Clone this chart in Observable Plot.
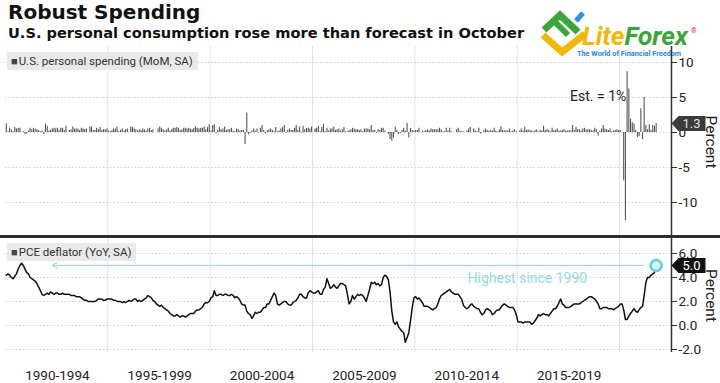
<!DOCTYPE html>
<html><head><meta charset="utf-8">
<script src="https://cdn.jsdelivr.net/npm/d3@7"></script>
<script src="https://cdn.jsdelivr.net/npm/@observablehq/plot@0.6"></script>
<style>
body{margin:0;background:#fff;}
#chart{position:relative;width:720px;height:383px;overflow:hidden;font-family:Roboto,sans-serif;color:#222;background:#fff;}
.abs{position:absolute;}
#title{left:8px;top:0px;font:bold 20px "DejaVu Sans";color:#111;}
#subtitle{left:8px;top:24px;font:bold 14.6px "DejaVu Sans";color:#111;}
.legend{background:#e9e9e9;font-size:11.5px;height:18px;line-height:18px;padding:0 5px 0 4px;color:#333;white-space:nowrap;}
.legend b{font-weight:normal;color:#444;font-size:11px;margin-right:1px;}
#sep{left:0;top:235px;width:720px;height:3px;background:#2e2e2e;}
#logoText{left:582px;top:24px;font:italic bold 26px Roboto;line-height:25px;}
#tagline{left:577px;top:50px;font:bold 7.3px Roboto;line-height:8px;color:#2a86d6;white-space:nowrap;}
#reg{left:691px;top:27px;font:7px Roboto;line-height:8px;color:#d23;}
</style></head>
<body>
<div id="chart">
  <div id="title" class="abs">Robust Spending</div>
  <div id="subtitle" class="abs">U.S. personal consumption rose more than forecast in October</div>
  <svg class="abs" style="left:538px;top:8px" width="52" height="48" viewBox="0 0 52 48">
    <polyline points="6,22 22,7 40,24" fill="none" stroke="#3aa63a" stroke-width="7"/>
    <polyline points="17,14 30,27" fill="none" stroke="#3aa63a" stroke-width="6"/>
    <polyline points="5,27 24,44 47,26" fill="none" stroke="#f2b705" stroke-width="7"/>
    <line x1="38" y1="13" x2="45" y2="5" stroke="#2f8fe0" stroke-width="5"/>
  </svg>
  <div id="logoText" class="abs"><span style="color:#f2b705">Lite</span><span style="color:#3aa63a">Forex</span></div>
  <div id="reg" class="abs">®</div>
  <div id="tagline" class="abs">The World of Financial Freedom</div>
  <div id="topPanel" class="abs" style="left:0;top:46px"></div>
  <div id="sep" class="abs"></div>
  <div id="bottomPanel" class="abs" style="left:0;top:238px"></div>
  <div class="abs legend" style="left:7px;top:52px"><b>■</b>U.S. personal spending (MoM, SA)</div>
  <div class="abs legend" style="left:7px;top:243px"><b>■</b>PCE deflator (YoY, SA)</div>
</div>
<script>
// ---- data (monthly, starting Jan 1990) ----
const startYear = 1990;
const spending = [
 1.2,0.1,0.6,0.4,0.1,0.7,0.5,0.6,0.6,0.0,0.1,-0.3,
 -0.2,0.2,0.6,0.4,0.6,0.5,0.4,0.3,0.1,0.2,-0.3,1.2,
 0.9,0.2,0.3,0.5,0.6,0.5,0.6,0.3,0.6,0.6,0.3,0.9,
 0.0,0.3,0.4,0.8,0.5,0.5,0.5,0.3,0.6,0.5,0.4,0.5,
 0.0,0.8,0.8,0.3,0.3,0.6,0.4,0.7,0.3,0.4,0.4,0.5,
 0.2,0.1,0.3,0.5,0.5,0.8,0.1,0.3,0.5,0.2,0.4,0.5,
 0.0,0.8,0.7,0.5,0.4,0.2,0.4,0.3,0.5,0.4,0.2,0.5,
 0.6,0.3,0.4,0.0,0.0,0.5,0.8,0.6,0.4,0.2,0.4,0.6,
 0.2,0.4,0.6,0.6,0.7,0.6,0.3,0.4,0.6,0.6,0.5,0.6,
 0.5,0.4,0.6,0.8,0.6,0.5,0.6,0.6,0.8,0.4,0.7,1.1,
 0.2,1.0,1.1,-0.1,0.3,0.7,0.4,0.5,0.8,0.3,0.4,0.4,
 0.6,0.2,0.1,0.5,0.4,0.2,0.3,0.3,-1.7,2.8,-0.3,-0.1,
 0.2,0.5,0.2,0.5,-0.1,0.6,1.0,0.3,-0.2,0.3,0.4,0.5,
 0.3,0.1,0.7,0.1,0.2,0.5,0.7,1.0,-0.1,0.3,0.5,0.3,
 0.3,0.6,1.0,0.3,0.8,-0.1,0.9,0.4,0.6,0.6,0.5,0.8,
 0.0,0.5,0.6,0.9,0.1,0.7,1.2,0.1,0.6,0.2,0.5,0.5,
 0.8,0.3,0.4,0.5,0.2,0.4,0.7,0.1,0.1,0.3,0.4,0.6,
 0.5,0.4,0.4,0.3,0.4,0.1,0.5,0.5,0.5,0.4,1.0,0.3,
 0.3,-0.1,0.4,0.3,0.6,0.6,0.2,0.0,-0.3,-1.0,-1.2,-0.8,
 0.8,0.3,-0.3,-0.1,0.3,0.6,0.2,1.3,-0.8,0.6,0.3,0.2,
 0.3,0.3,0.6,0.0,0.2,0.1,0.3,0.4,0.2,0.5,0.4,0.4,
 0.4,0.4,0.6,0.4,0.1,0.1,0.6,0.2,0.6,0.1,0.0,0.0,
 0.4,0.6,0.2,0.1,0.1,0.0,0.2,0.5,0.7,0.0,0.5,0.2,
 0.1,0.6,-0.2,0.0,0.3,0.5,0.3,0.2,0.3,0.2,0.6,0.2,
 0.1,0.4,0.8,0.3,0.2,0.3,0.2,0.5,0.1,0.2,0.4,0.1,
 0.0,0.2,0.5,0.2,0.7,0.3,0.4,0.3,0.2,0.1,0.3,0.4,
 0.1,0.3,0.2,0.9,0.3,0.4,0.3,0.1,0.6,0.3,0.3,0.5,
 0.2,0.2,0.3,0.4,0.2,0.2,0.3,0.2,1.0,0.3,0.7,0.4,
 0.4,0.2,0.5,0.6,0.4,0.4,0.4,0.3,0.2,0.6,0.4,-0.5,
 0.2,0.5,1.0,0.5,0.4,0.3,0.5,0.1,0.2,0.3,0.4,0.3,
 0.3,0.0,-6.9,-12.6,8.7,6.2,1.9,1.4,1.2,0.3,-0.7,-0.6,
 3.4,-1.0,5.0,1.0,0.4,1.1,0.3,1.0,0.9,1.3
];
const pceDeflator = [
 4.2,4.3,4.2,4.0,3.9,4.1,4.3,4.7,5.0,5.2,5.0,4.7,
 4.4,4.3,4.0,3.9,3.8,3.7,3.5,3.2,2.9,2.6,2.5,2.6,
 2.7,2.6,2.8,2.7,2.6,2.7,2.7,2.6,2.6,2.7,2.6,2.6,
 2.6,2.6,2.5,2.5,2.5,2.4,2.4,2.4,2.3,2.2,2.1,2.1,
 2.0,2.0,2.0,2.0,2.0,2.1,2.2,2.2,2.2,2.1,2.1,2.2,
 2.2,2.2,2.2,2.1,2.1,2.0,2.0,2.0,1.9,2.0,1.9,2.0,
 2.1,2.0,2.1,2.2,2.2,2.0,2.1,2.0,2.1,2.2,2.3,2.5,
 2.4,2.3,2.1,2.0,1.8,1.7,1.6,1.7,1.5,1.4,1.3,1.2,
 1.0,0.9,0.8,0.8,0.9,0.8,0.7,0.8,0.8,0.7,0.8,0.9,
 1.0,1.0,1.0,1.2,1.3,1.3,1.4,1.5,1.8,1.9,1.9,2.0,
 2.3,2.4,2.9,2.5,2.5,2.6,2.6,2.5,2.6,2.6,2.5,2.5,
 2.6,2.5,2.3,2.4,2.3,2.1,1.8,1.7,1.7,1.2,1.0,0.9,
 0.6,0.8,1.1,1.0,1.1,1.1,1.3,1.5,1.5,1.8,1.8,2.1,
 2.4,2.7,2.5,1.8,1.7,1.8,1.9,2.0,2.0,1.8,1.7,1.7,
 1.9,2.0,2.1,2.3,2.6,2.6,2.4,2.3,2.3,2.7,2.9,2.8,
 2.7,2.7,2.8,2.9,2.6,2.6,3.0,3.2,3.9,3.5,3.1,3.2,
 3.4,3.2,3.1,3.3,3.5,3.5,3.4,3.3,2.6,1.8,2.0,2.5,
 2.2,2.4,2.6,2.5,2.6,2.5,2.3,2.0,2.5,3.0,3.6,3.5,
 3.6,3.4,3.5,3.3,3.4,4.0,4.2,4.1,3.8,2.8,1.2,0.3,
 0.1,0.3,-0.1,-0.3,-0.5,-0.6,-1.4,-1.0,-0.6,0.4,1.5,2.3,
 2.4,2.2,2.3,2.1,1.9,1.6,1.6,1.6,1.5,1.4,1.3,1.4,
 1.5,1.8,2.2,2.5,2.6,2.7,2.8,2.9,3.0,2.8,2.7,2.6,
 2.6,2.6,2.4,2.2,1.7,1.5,1.4,1.5,1.7,1.8,1.6,1.5,
 1.4,1.4,1.1,0.9,1.0,1.3,1.4,1.3,1.2,0.9,1.0,1.2,
 1.3,1.3,1.5,1.7,1.8,1.7,1.6,1.5,1.5,1.5,1.3,0.9,
 0.3,0.3,0.3,0.2,0.3,0.3,0.3,0.3,0.1,0.2,0.4,0.6,
 0.9,0.8,0.9,1.0,0.9,0.9,0.8,1.0,1.2,1.4,1.4,1.6,
 1.9,2.2,1.8,1.7,1.5,1.5,1.5,1.6,1.7,1.8,1.8,1.8,
 1.8,1.9,2.0,2.1,2.2,2.3,2.4,2.4,2.3,2.2,2.0,1.8,
 1.4,1.4,1.5,1.5,1.5,1.4,1.4,1.4,1.3,1.4,1.5,1.6,
 1.8,1.8,1.3,0.5,0.5,0.8,1.0,1.2,1.4,1.2,1.1,1.3,
 1.5,1.6,2.5,3.6,4.0,4.0,4.2,4.3,4.4,5.0
];
const xLabels = ["1990-1994","1995-1999","2000-2004","2005-2009","2010-2014","2015-2019"];
const gridYears = [1995,2000,2005,2010,2015,2020];
const topTicks = [-10,-5,0,5,10];
const bottomTicks = [-2,0,2,4,6];
const estNote = {date: "2020-05-01", v: 5.1, label: "Est. = 1%"};
const highNote = {date: "2015-07-01", v: 3.9, label: "Highest since 1990"};
const arrowTo = "1992-04-15";

// ---- build ----
const monthDate = i => new Date(Date.UTC(startYear, i, 15));
const spendData = spending.map((v, i) => ({date: monthDate(i), v}));
const pceData = pceDeflator.map((v, i) => ({date: monthDate(i), v}));
const xDomain = [new Date(Date.UTC(1990,0,1)), new Date(Date.UTC(2022,6,16))];
const gridDates = gridYears.map(y => new Date(Date.UTC(y,0,1)));
const labelDates = xLabels.map((s, i) => new Date(Date.UTC(1990 + 5*i + 2, 6, 15)));
const lastSpend = spendData[spendData.length-1];
const lastPce = pceData[pceData.length-1];

const tagSymbol = {draw(ctx) { ctx.moveTo(0,0); ctx.lineTo(7,-7.5); ctx.lineTo(34,-7.5); ctx.lineTo(34,7.5); ctx.lineTo(7,7.5); ctx.closePath(); }};
const plotStyle = {fontFamily: "Roboto, sans-serif", fontSize: "13px", color: "#222", background: "transparent", overflow: "visible"};

const topChart = Plot.plot({
  width: 720, height: 191,
  marginLeft: 5, marginRight: 49, marginTop: 0, marginBottom: 0,
  style: plotStyle,
  x: {type: "utc", domain: xDomain, axis: null},
  y: {domain: [-15, 12.29]},
  marks: [
    Plot.ruleX(gridDates, {stroke: "#e3e3e3"}),
    Plot.ruleY(topTicks, {stroke: "#d0d0d0", strokeDasharray: "1.5,2"}),
    Plot.ruleX(spendData, {x: "date", y1: 0, y2: "v", stroke: "#555", strokeWidth: 1.1}),
    Plot.ruleX([xDomain[1]], {stroke: "#333", strokeWidth: 1.5}),
    Plot.axisY({anchor: "right", ticks: topTicks, label: null, tickSize: 5, tickPadding: 2, tickFormat: d => String(d), fontSize: 13.5, stroke: "#333"}),
    Plot.text([estNote], {x: d => new Date(d.date), y: "v", text: "label", textAnchor: "end", fontSize: 14, fill: "#222"}),
    Plot.dot([lastSpend], {y: "v", frameAnchor: "right", symbol: tagSymbol, fill: "#3b3b3b", stroke: "none"}),
    Plot.text([lastSpend], {y: "v", frameAnchor: "right", textAnchor: "middle", dx: 20, text: d => d.v.toFixed(1), fill: "#e0e0e0", fontSize: 13}),
    Plot.text(["Percent"], {frameAnchor: "right", textAnchor: "middle", dx: 39, rotate: 90, fontSize: 15.5, fill: "#222"})
  ]
});
document.getElementById("topPanel").appendChild(topChart);

const bottomChart = Plot.plot({
  width: 720, height: 145,
  marginLeft: 5, marginRight: 49, marginTop: 0, marginBottom: 31,
  style: plotStyle,
  x: {type: "utc", domain: xDomain},
  y: {domain: [-2.25, 7.25]},
  marks: [
    Plot.ruleX(gridDates, {stroke: "#e3e3e3"}),
    Plot.ruleY(bottomTicks, {stroke: "#d0d0d0", strokeDasharray: "1.5,2"}),
    Plot.arrow([lastPce], {x1: "date", y1: "v", x2: () => new Date(arrowTo), y2: "v", stroke: "#7fd8dd", strokeWidth: 1.2, strokeDasharray: "1.5,1.5", headLength: 7, insetStart: 13, bend: 0}),
    Plot.text([highNote], {x: d => new Date(d.date), y: "v", text: "label", fontSize: 14, fill: "#8fdbe0"}),
    Plot.line(pceData, {x: "date", y: "v", stroke: "#111", strokeWidth: 1.5}),
    Plot.dot([lastPce], {x: "date", y: "v", r: 5.5, stroke: "#5fd0d7", strokeWidth: 2.5, fill: "#d6f4f6"}),
    Plot.ruleX([xDomain[1]], {stroke: "#333", strokeWidth: 1.5}),
    Plot.axisY({anchor: "right", ticks: bottomTicks, label: null, tickSize: 5, tickPadding: 2, tickFormat: d => d.toFixed(1), fontSize: 13.5, stroke: "#333"}),
    Plot.axisX(labelDates, {tickSize: 0, tickPadding: 18, label: null, tickFormat: d => xLabels[labelDates.findIndex(t => +t === +d)], fontSize: 13.5, fill: "#222"}),
    Plot.dot([lastPce], {y: "v", frameAnchor: "right", symbol: tagSymbol, fill: "#111", stroke: "none"}),
    Plot.text([lastPce], {y: "v", frameAnchor: "right", textAnchor: "middle", dx: 20, text: d => d.v.toFixed(1), fill: "#fff", fontSize: 13}),
    Plot.text(["Percent"], {frameAnchor: "right", textAnchor: "middle", dx: 39, rotate: 90, fontSize: 15.5, fill: "#222"})
  ]
});
document.getElementById("bottomPanel").appendChild(bottomChart);
</script>
</body></html>
